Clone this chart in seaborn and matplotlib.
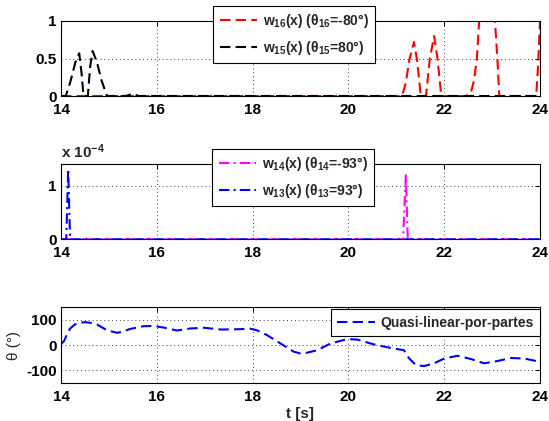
import matplotlib
matplotlib.use("Agg")
import matplotlib.pyplot as plt
import seaborn as sns
import pandas as pd

# ---- membership weights w16 / w15 (top panel) ----
t_w16 = [14.0, 21.12, 21.2, 21.27, 21.37, 21.44, 21.51, 21.62, 21.7, 21.79, 21.86, 21.94,
         22.45, 22.55, 22.62, 22.68, 22.73, 23.06, 23.11, 23.15, 23.92, 23.96, 24.0]
w16 = [0.0, 0.0, 0.18, 0.48, 0.72, 0.45, 0.0, 0.0, 0.5, 0.8, 0.5, 0.0,
       0.0, 0.03, 0.2, 0.48, 1.0, 1.0, 0.5, 0.0, 0.0, 0.4, 1.0]

t_w15 = [14.0, 14.1, 14.2, 14.3, 14.38, 14.43, 14.47, 14.56, 14.61, 14.66, 14.75, 14.85,
         14.96, 15.35, 15.5, 15.62, 24.0]
w15 = [0.0, 0.0, 0.2, 0.45, 0.57, 0.3, 0.0, 0.0, 0.4, 0.6, 0.45, 0.2,
       0.0, 0.0, 0.03, 0.0, 0.0]

# ---- membership weights w14 / w13 (middle panel, order 1e-4) ----
t_w14 = [14.0, 21.14, 21.2, 21.24, 24.0]
w14 = [0.0, 0.0, 1.2e-4, 0.0, 0.0]

t_w13 = [14.0, 14.11, 14.15, 14.19, 24.0]
w13 = [0.0, 0.0, 1.31e-4, 0.0, 0.0]

# ---- angle trajectory (bottom panel) ----
t_theta = [14.0, 14.06, 14.12, 14.19, 14.29, 14.4, 14.5, 14.6, 14.75, 14.96, 15.17, 15.3,
           15.44, 15.72, 15.93, 16.14, 16.42, 16.7, 16.98, 17.33, 17.68, 17.95, 18.09,
           18.3, 18.58, 18.86, 19.0, 19.07, 19.35, 19.63, 19.98, 20.19, 20.53, 20.88,
           21.16, 21.27, 21.41, 21.58, 21.79, 22.0, 22.28, 22.56, 22.83, 23.11, 23.39,
           23.67, 24.0]
theta = [5, 15, 40, 66, 82, 89, 91, 89, 82, 59, 49, 54,
         64, 75, 76, 70, 58, 66, 69, 62, 63, 65, 59,
         40, 7, -26, -33, -33, -20, 7, 24, 22, 3, -11,
         -20, -53, -79, -83, -72, -53, -42, -55, -72, -63, -51,
         -53, -66]

x_ticks = [14, 16, 18, 20, 22, 24]
top_yticks = [0, 0.5, 1]
mid_yticks = [0, 1]
bot_yticks = [-100, 0, 100]

lbl_w16 = r"w$_{16}$(x) ($\theta_{16}$=-80°)"
lbl_w15 = r"w$_{15}$(x) ($\theta_{15}$=80°)"
lbl_w14 = r"w$_{14}$(x) ($\theta_{14}$=-93°)"
lbl_w13 = r"w$_{13}$(x) ($\theta_{13}$=93°)"
lbl_theta = "Quasi-linear-por-partes"

sns.set_style("white")
plt.rcParams["font.family"] = ["Liberation Sans", "DejaVu Sans"]
plt.rcParams["mathtext.fontset"] = "custom"
plt.rcParams["mathtext.rm"] = "Liberation Sans:bold"
plt.rcParams["mathtext.it"] = "Liberation Sans:bold"
plt.rcParams["mathtext.bf"] = "Liberation Sans:bold"
plt.rcParams["font.size"] = 11
plt.rcParams["font.weight"] = "bold"

FS_TICK = 11
FS_LEG = 10

fig = plt.figure(figsize=(5.49, 4.21), dpi=100)
L, W = 61 / 549, 479 / 549
ax1 = fig.add_axes([L, 1 - 96 / 421, W, 75 / 421])
ax2 = fig.add_axes([L, 1 - 239.3 / 421, W, 75.3 / 421])
ax3 = fig.add_axes([L, 1 - 383 / 421, W, 75.7 / 421])

lw = 1.5
dash = (5, 2.5)
dashdot = (5, 2, 1, 2)

df16 = pd.DataFrame({"t": t_w16, "w": w16})
df15 = pd.DataFrame({"t": t_w15, "w": w15})
sns.lineplot(data=df16, x="t", y="w", ax=ax1, color="red", lw=lw,
             label=lbl_w16, sort=False)
sns.lineplot(data=df15, x="t", y="w", ax=ax1, color="black", lw=lw,
             label=lbl_w15, sort=False)

df14 = pd.DataFrame({"t": t_w14, "w": [v * 1e4 for v in w14]})
df13 = pd.DataFrame({"t": t_w13, "w": [v * 1e4 for v in w13]})
sns.lineplot(data=df14, x="t", y="w", ax=ax2, color="magenta", lw=lw,
             label=lbl_w14, sort=False)
sns.lineplot(data=df13, x="t", y="w", ax=ax2, color="blue", lw=lw,
             label=lbl_w13, sort=False)

dft = pd.DataFrame({"t": t_theta, "theta": theta})
sns.lineplot(data=dft, x="t", y="theta", ax=ax3, color="blue", lw=lw,
             label=lbl_theta, sort=False)

for ax, yt, ylim in [(ax1, top_yticks, (0, 1)), (ax2, mid_yticks, (0, 1.41)),
                     (ax3, bot_yticks, (-150, 150))]:
    ax.set_xlim(14, 24)
    ax.set_ylim(*ylim)
    ax.set_xticks(x_ticks)
    ax.set_yticks(yt)
    ax.set_xticklabels([str(v) for v in x_ticks])
    ax.set_yticklabels([f"{v:g}" for v in yt])
    ax.tick_params(direction="in", length=3.5, width=0.7, top=True, right=True,
                   labelsize=FS_TICK, colors="black")
    ax.tick_params(axis="x", pad=5)
    ax.tick_params(axis="y", pad=3)
    ax.grid(True, linestyle=(0, (1, 3)), color="#444444", linewidth=0.7)
    for s in ax.spines.values():
        s.set_color("black")
        s.set_linewidth(0.8)
    ax.set_xlabel("")
    ax.set_ylabel("")

leg_kw = dict(frameon=True, fancybox=False, edgecolor="black", framealpha=1,
              fontsize=FS_LEG, borderpad=0.45, handlelength=2.7, handletextpad=0.4,
              labelspacing=0.6, borderaxespad=0)
lg1 = ax1.legend(loc="upper left", bbox_to_anchor=(0.318, 1.2, 0.338, 0.0),
                 mode="expand", **leg_kw)
lg2 = ax2.legend(loc="upper left", bbox_to_anchor=(0.316, 1.2, 0.338, 0.0),
                 mode="expand", **leg_kw)
lg3 = ax3.legend(loc="upper right", bbox_to_anchor=(1.0, 0.973), **leg_kw)

for ax, lg, pattern in ((ax1, lg1, dash), (ax2, lg2, dashdot), (ax3, lg3, dash)):
    lg.get_frame().set_linewidth(0.8)
    for ln in ax.get_lines():
        ln.set_dashes(pattern)
    for h in lg.get_lines():
        h.set_linewidth(lw)
        h.set_dashes(pattern)

ax2.text(0.0, 1.04, "x 10$^{\\mathregular{-4}}$", transform=ax2.transAxes,
         ha="left", va="bottom", fontsize=FS_TICK, fontweight="bold")

ax3.set_xlabel("t [s]", fontsize=FS_TICK, fontweight="bold", labelpad=2)
ax3.set_ylabel("θ (°)", fontsize=FS_TICK, fontweight="normal", labelpad=4)

fig.savefig("out.png", dpi=100)
